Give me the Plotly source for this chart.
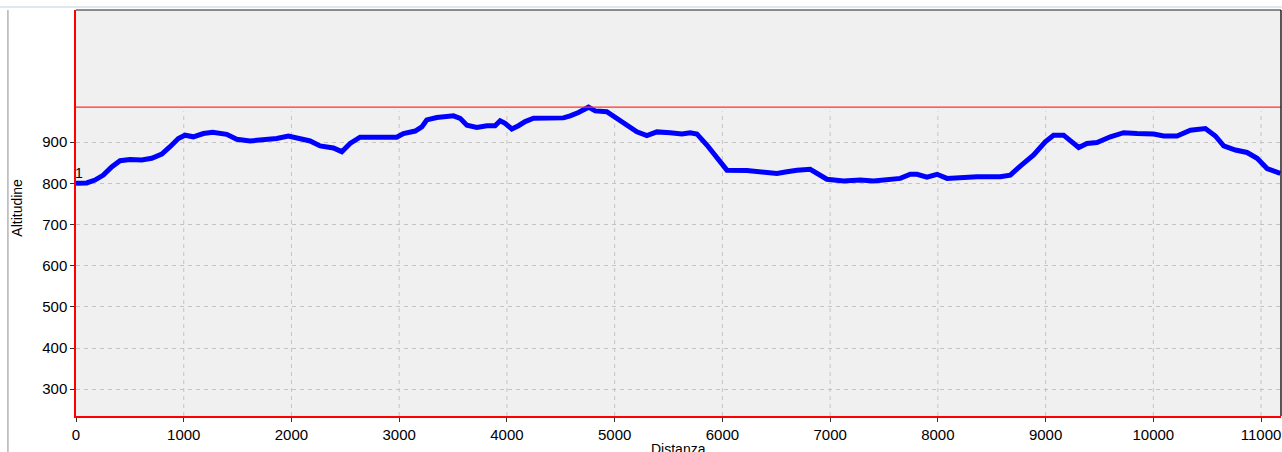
import plotly.graph_objects as go

distanza = [0, 99, 176, 254, 331, 409, 501, 610, 703, 796, 873, 950, 1012, 1089, 1182, 1269,
            1399, 1492, 1616, 1739, 1863, 1971, 2080, 2173, 2266, 2389, 2467, 2544, 2637, 2807,
            2977, 3039, 3148, 3210, 3256, 3349, 3504, 3566, 3628, 3721, 3814, 3890, 3937, 3983,
            4045, 4107, 4169, 4247, 4371, 4525, 4587, 4664, 4757, 4819, 4927, 5020, 5113, 5206,
            5299, 5392, 5515, 5624, 5701, 5763, 5856, 5949, 6042, 6228, 6382, 6506, 6599, 6692,
            6815, 6877, 6970, 7125, 7280, 7403, 7558, 7651, 7744, 7806, 7899, 7992, 8085, 8208,
            8363, 8579, 8672, 8765, 8889, 8997, 9074, 9167, 9245, 9307, 9384, 9477, 9601, 9725,
            9848, 10003, 10096, 10220, 10344, 10483, 10576, 10653, 10762, 10870, 10963, 11056, 11179]
altitudine = [800, 801, 808, 820, 840, 855, 858, 857, 861, 871, 889, 909, 917, 913, 921, 924,
              919, 907, 903, 905, 909, 915, 909, 903, 891, 886, 877, 897, 912, 912,
              912, 921, 927, 937, 954, 960, 964, 958, 941, 936, 940, 940, 952, 946,
              932, 940, 950, 958, 959, 959, 964, 972, 985, 976, 974, 958, 939, 925,
              916, 925, 923, 920, 923, 920, 893, 861, 832, 831, 826, 824, 828, 832,
              834, 824, 810, 806, 808, 806, 808, 812, 822, 822, 815, 822, 812, 815,
              816, 816, 820, 842, 869, 901, 917, 917, 901, 887, 897, 899, 913, 923,
              921, 920, 915, 915, 929, 933, 915, 891, 881, 875, 861, 836, 824]

x_ticks = [0, 1000, 2000, 3000, 4000, 5000, 6000, 7000, 8000, 9000, 10000, 11000]
x_tick_labels = ["0", "1000", "2000", "3000", "4000", "5000", "6000", "7000", "8000", "9000",
                 "10000", "11000"]
y_ticks = [300, 400, 500, 600, 700, 800, 900]
y_tick_labels = ["300", "400", "500", "600", "700", "800", "900"]
x_range = [0, 11185]
y_range = [235, 1221]
start_label = "1"
x_title = "Distanza"
y_title = "Altitudine"

peak = max(altitudine)
font = "Liberation Sans, Arial, sans-serif"

fig = go.Figure()
fig.add_trace(go.Scatter(
    x=distanza, y=altitudine, mode="lines",
    line=dict(color="#0000FF", width=5),
    showlegend=False, hoverinfo="x+y",
))

shapes = []
# vertical dashed grid (only below the max line)
for xv in x_ticks[1:]:
    shapes.append(dict(type="line", xref="x", yref="y", x0=xv, x1=xv, y0=y_range[0], y1=peak - 10,
                       line=dict(color="#C4C4C4", width=1, dash="4px,4px"), layer="below"))
# max altitude line
shapes.append(dict(type="line", xref="paper", yref="y", x0=0, x1=1, y0=peak, y1=peak,
                   line=dict(color="#FF3030", width=1.2)))
# top and right black borders
shapes.append(dict(type="line", xref="paper", yref="paper", x0=0, x1=1, y0=1, y1=1,
                   line=dict(color="#202020", width=1.2)))
shapes.append(dict(type="line", xref="paper", yref="paper", x0=1, x1=1, y0=0, y1=1,
                   line=dict(color="#202020", width=1.5)))
# outer frame lines
shapes.append(dict(type="line", xref="paper", yref="paper", x0=-0.063, x1=1.001, y0=1.0074, y1=1.0074,
                   line=dict(color="#D5E0EC", width=1.5)))
shapes.append(dict(type="line", xref="paper", yref="paper", x0=-0.0565, x1=-0.0565, y0=-0.1, y1=1.0,
                   line=dict(color="#B4B4B4", width=1.5)))

annotations = [
    dict(x=distanza[0], y=altitudine[0], xref="x", yref="y", text=start_label,
         showarrow=False, xanchor="left", yanchor="bottom", xshift=-3, yshift=0,
         font=dict(size=14, color="#000000")),
    dict(x=0.5, y=-0.056, xref="paper", yref="paper", text=x_title, showarrow=False,
         xanchor="center", yanchor="top", font=dict(size=14, color="#000000")),
    dict(x=-0.0485, y=0.512, xref="paper", yref="paper", text=y_title, showarrow=False,
         textangle=-90, xanchor="center", yanchor="middle", font=dict(size=14, color="#000000")),
]

fig.update_layout(
    width=1282, height=452,
    margin=dict(l=76, r=1, t=10, b=36, autoexpand=False),
    paper_bgcolor="white", plot_bgcolor="#F0F0F0",
    font=dict(family=font, size=15, color="#000000"),
    shapes=shapes,
    annotations=annotations,
    xaxis=dict(range=x_range, tickvals=x_ticks, ticktext=x_tick_labels, showgrid=False,
               zeroline=False, automargin=False,
               showline=True, linecolor="#FF0000", linewidth=1.5,
               ticks="outside", ticklen=4, tickcolor="#303030", tickfont=dict(size=15)),
    yaxis=dict(range=y_range, tickvals=y_ticks, ticktext=y_tick_labels, showgrid=True,
               gridcolor="#C4C4C4", griddash="4px,4px", gridwidth=1, zeroline=False,
               automargin=False,
               showline=True, linecolor="#FF0000", linewidth=1.5,
               ticks="outside", ticklen=4, tickcolor="#303030", tickfont=dict(size=15)),
)

fig.write_html("out.html", config={"displayModeBar": False},
               post_script="document.body.style.margin='0';document.body.style.overflow='hidden';")
